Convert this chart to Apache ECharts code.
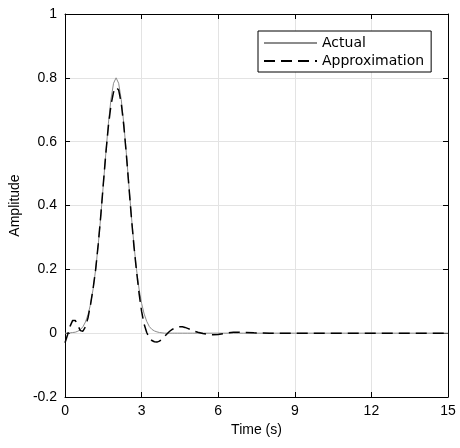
<!DOCTYPE html>
<html>
<head>
<meta charset="utf-8">
<script src="https://cdn.jsdelivr.net/npm/echarts@6/dist/echarts.min.js"></script>
<style>html,body{margin:0;padding:0;background:#fff}#c{width:460px;height:448px}</style>
</head>
<body>
<div id="c"></div>
<script>
var timeS = [0,0.1,0.2,0.3,0.4,0.5,0.6,0.7,0.8,0.9,1.0,1.1,1.2,1.3,1.4,1.5,1.6,1.7,1.8,1.9,2.0,2.1,2.2,2.3,2.4,2.5,2.6,2.7,2.8,2.9,3.0,3.1,3.2,3.3,3.4,3.5,3.6,3.7,3.8,3.9,4.0,4.1,4.2,4.3,4.4,4.5,4.6,4.7,4.8,4.9,5.0,5.2,5.4,5.6,5.8,6.0,6.2,6.4,6.6,6.8,7.0,7.4,8,9,10,11,12,13,14,15];
var actualVals = [0.000,0.000,0.001,0.002,0.003,0.006,0.011,0.020,0.035,0.058,0.091,0.138,0.200,0.276,0.366,0.465,0.565,0.658,0.733,0.783,0.800,0.783,0.733,0.658,0.565,0.465,0.366,0.276,0.200,0.138,0.093,0.060,0.037,0.021,0.012,0.007,0.004,0.002,0.001,0.000,0,0,0,0,0,0,0,0,0,0,0,0,0,0,0,0,0,0,0,0,0,0,0,0,0,0,0,0,0,0];
var approxVals = [-0.030,-0.005,0.022,0.040,0.040,0.025,0.008,0.006,0.020,0.048,0.090,0.140,0.200,0.278,0.368,0.468,0.565,0.650,0.715,0.755,0.770,0.762,0.722,0.652,0.562,0.462,0.362,0.272,0.195,0.125,0.068,0.028,0.002,-0.014,-0.023,-0.027,-0.028,-0.025,-0.018,-0.010,-0.002,0.006,0.012,0.016,0.019,0.020,0.020,0.018,0.015,0.012,0.008,0.003,-0.001,-0.004,-0.005,-0.004,-0.002,0.001,0.003,0.003,0.002,0.001,0,0,0,0,0,0,0,0];
var xTicks = {min:0, max:15, interval:3};
var yTicks = {min:-0.2, max:1, interval:0.2};
var seriesNames = ['Actual', 'Approximation'];

function pairs(v){ return timeS.map(function(t,i){ return [t, v[i]]; }); }

var FONT = 'Liberation Sans, Arial, sans-serif';
var chart = echarts.init(document.getElementById('c'), null, {renderer:'canvas'});
var axisLineS = {show:true, onZero:false, lineStyle:{color:'#000', width:1}};
var tickS = {show:true, inside:true, length:5, lineStyle:{color:'#000', width:1}};
chart.setOption({
  animation:false,
  backgroundColor:'#fff',
  grid:{left:65, right:12, top:14, bottom:51, containLabel:false},
  legend:{
    show:true,
    orient:'vertical', left:258, top:31,
    backgroundColor:'#fff', borderColor:'#000', borderWidth:1,
    padding:[5,7,4,5], itemWidth:53, itemHeight:14, itemGap:4,
    itemStyle:{color:'rgba(0,0,0,0)', borderWidth:0, opacity:0},
    textStyle:{fontFamily:'DejaVu Sans, sans-serif', fontSize:14, color:'#000'},
    data:seriesNames
  },
  xAxis:[
    {type:'value', min:xTicks.min, max:xTicks.max, interval:xTicks.interval, position:'bottom',
     name:'Time (s)', nameLocation:'middle', nameGap:26,
     nameTextStyle:{fontFamily:FONT, fontSize:14, color:'#000'},
     axisLine:axisLineS, axisTick:tickS,
     axisLabel:{fontFamily:FONT, fontSize:14, color:'#000', margin:7},
     splitLine:{show:true, lineStyle:{color:'#e3e3e3', width:1}}},
    {type:'value', min:xTicks.min, max:xTicks.max, interval:xTicks.interval, position:'top',
     axisLine:axisLineS, axisTick:tickS, axisLabel:{show:false}, splitLine:{show:false}}
  ],
  yAxis:[
    {type:'value', min:yTicks.min, max:yTicks.max, interval:yTicks.interval, position:'left',
     name:'Amplitude', nameLocation:'middle', nameGap:37,
     nameTextStyle:{fontFamily:FONT, fontSize:14, color:'#000'},
     axisLine:axisLineS, axisTick:tickS,
     axisLabel:{fontFamily:FONT, fontSize:14, color:'#000', margin:8},
     splitLine:{show:true, lineStyle:{color:'#e3e3e3', width:1}}},
    {type:'value', min:yTicks.min, max:yTicks.max, interval:yTicks.interval, position:'right',
     axisLine:axisLineS, axisTick:tickS, axisLabel:{show:false}, splitLine:{show:false}}
  ],
  series:[
    {name:seriesNames[0], type:'line', data:pairs(actualVals), showSymbol:false, symbol:'none', smooth:false,
     lineStyle:{color:'#8c8c8c', width:1}, itemStyle:{color:'#8c8c8c'}, z:2},
    {name:seriesNames[1], type:'line', data:pairs(approxVals), showSymbol:false, symbol:'none', smooth:false,
     lineStyle:{color:'#000', width:1.5, type:[11,6]}, itemStyle:{color:'#000'}, z:3}
  ]
});
</script>
</body>
</html>
